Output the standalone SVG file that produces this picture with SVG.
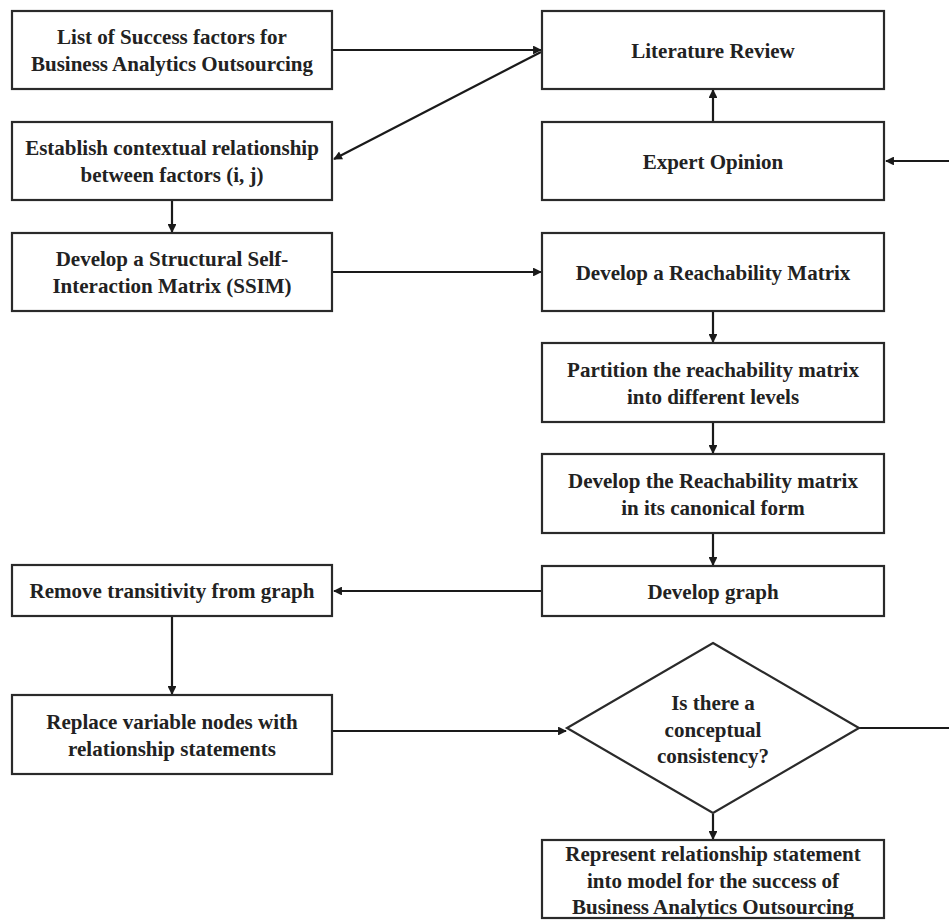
<svg xmlns="http://www.w3.org/2000/svg" width="949" height="920" viewBox="0 0 949 920">
<style>
.box{fill:#fff;stroke:#2a2a2a;stroke-width:2.2}
.t{font-family:"Liberation Serif","Times New Roman",serif;font-weight:bold;font-size:21px;fill:#222;text-anchor:middle}
.c{fill:none;stroke:#1a1a1a;stroke-width:2.2}
</style>
<defs>
<marker id="ah" viewBox="0 0 10 10" refX="9" refY="5" markerWidth="4.5" markerHeight="4" orient="auto" markerUnits="strokeWidth">
<path d="M0,0 L10,5 L0,10 z" fill="#1a1a1a"/>
</marker>
</defs>
<rect width="949" height="920" fill="#fff"/>
<g id="connectors">
<line class="c" x1="333" y1="50" x2="541" y2="50" marker-end="url(#ah)"/>
<line class="c" x1="541" y1="52" x2="334" y2="159" marker-end="url(#ah)"/>
<line class="c" x1="172" y1="201" x2="172" y2="232" marker-end="url(#ah)"/>
<line class="c" x1="333" y1="272" x2="541" y2="272" marker-end="url(#ah)"/>
<line class="c" x1="713" y1="122" x2="713" y2="90" marker-end="url(#ah)"/>
<line class="c" x1="713" y1="312" x2="713" y2="342" marker-end="url(#ah)"/>
<line class="c" x1="713" y1="423" x2="713" y2="453" marker-end="url(#ah)"/>
<line class="c" x1="713" y1="534" x2="713" y2="565" marker-end="url(#ah)"/>
<line class="c" x1="542" y1="591" x2="334" y2="591" marker-end="url(#ah)"/>
<line class="c" x1="172" y1="617" x2="172" y2="694" marker-end="url(#ah)"/>
<line class="c" x1="333" y1="731" x2="566" y2="731" marker-end="url(#ah)"/>
<line class="c" x1="713" y1="814" x2="713" y2="839" marker-end="url(#ah)"/>
<path class="c" d="M859,728 H952 V161 H886" marker-end="url(#ah)"/>
</g>
<g id="n1"><rect class="box" x="12" y="11" width="320" height="78"/><text class="t" x="172" y="44">List of Success factors for</text><text class="t" x="172" y="71">Business Analytics Outsourcing</text></g>
<g id="n2"><rect class="box" x="12" y="122" width="320" height="78"/><text class="t" x="172" y="155">Establish contextual relationship</text><text class="t" x="172" y="182">between factors (i, j)</text></g>
<g id="n3"><rect class="box" x="12" y="233" width="320" height="78"/><text class="t" x="172" y="266">Develop a Structural Self-</text><text class="t" x="172" y="293">Interaction Matrix (SSIM)</text></g>
<g id="n4"><rect class="box" x="542" y="11" width="342" height="78"/><text class="t" x="713" y="58">Literature Review</text></g>
<g id="n5"><rect class="box" x="542" y="122" width="342" height="78"/><text class="t" x="713" y="169">Expert Opinion</text></g>
<g id="n6"><rect class="box" x="542" y="233" width="342" height="78"/><text class="t" x="713" y="280">Develop a Reachability Matrix</text></g>
<g id="n7"><rect class="box" x="542" y="343" width="342" height="79"/><text class="t" x="713" y="377">Partition the reachability matrix</text><text class="t" x="713" y="404">into different levels</text></g>
<g id="n8"><rect class="box" x="542" y="454" width="342" height="79"/><text class="t" x="713" y="488">Develop the Reachability matrix</text><text class="t" x="713" y="515">in its canonical form</text></g>
<g id="n9"><rect class="box" x="542" y="566" width="342" height="50"/><text class="t" x="713" y="599">Develop graph</text></g>
<g id="n10"><rect class="box" x="12" y="565" width="320" height="51"/><text class="t" x="172" y="598">Remove transitivity from graph</text></g>
<g id="n11"><rect class="box" x="12" y="695" width="320" height="79"/><text class="t" x="172" y="729">Replace variable nodes with</text><text class="t" x="172" y="756">relationship statements</text></g>
<g id="n12"><polygon class="box" points="713,643 859,728 713,813 567,728"/><text class="t" x="713" y="710">Is there a</text><text class="t" x="713" y="737">conceptual</text><text class="t" x="713" y="763">consistency?</text></g>
<g id="n13"><rect class="box" x="542" y="840" width="342" height="78"/><text class="t" x="713" y="861">Represent relationship statement</text><text class="t" x="713" y="888">into model for the success of</text><text class="t" x="713" y="914">Business Analytics Outsourcing</text></g>
</svg>
